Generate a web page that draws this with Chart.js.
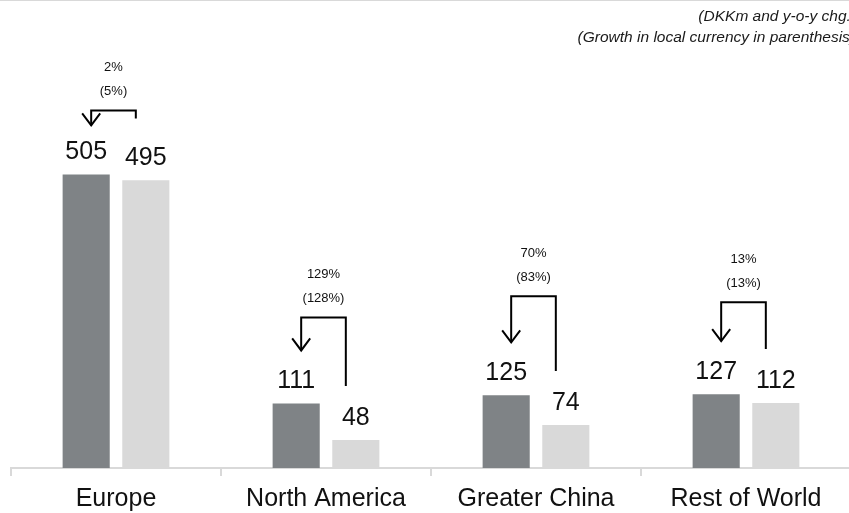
<!DOCTYPE html>
<html>
<head>
<meta charset="utf-8">
<script src="https://cdn.jsdelivr.net/npm/chart.js@4.4.1/dist/chart.umd.min.js"></script>
<style>
  html, body { margin: 0; padding: 0; background: #fff; overflow: hidden; }
</style>
</head>
<body>
<canvas id="regionChart" width="851" height="513"></canvas>
<script>
// Revenue by region (DKKm), current year vs prior year
const categories = ["Europe", "North America", "Greater China", "Rest of World"];
const currentValues = [505, 111, 125, 127];
const priorValues = [495, 48, 74, 112];
const growthLabels = ["2%", "129%", "70%", "13%"];
const localGrowthLabels = ["(5%)", "(128%)", "(83%)", "(13%)"];

const FONT = '"Liberation Sans", Arial, sans-serif';
const DARK = "#7f8386";
const LIGHT = "#d9d9d9";

// how far (px) each bracket sits above the taller bar of its pair
const bracketRise = [64, 86, 99, 92];

const growthArrows = {
  id: "growthArrows",
  beforeDraw(chart) {
    const ctx = chart.ctx;
    ctx.save();
    ctx.fillStyle = LIGHT;
    ctx.fillRect(0, 0, 849, 1);
    ctx.fillStyle = "#1a1a1a";
    ctx.textAlign = "right";
    ctx.textBaseline = "middle";
    ctx.font = "italic 15.5px " + FONT;
    ctx.fillText("(DKKm and y-o-y chg.)", 856, 17);
    ctx.fillText("(Growth in local currency in parenthesis)", 855, 38);
    ctx.restore();
  },
  afterDatasetsDraw(chart) {
    const ctx = chart.ctx;
    const cur = chart.getDatasetMeta(0).data;
    const prev = chart.getDatasetMeta(1).data;
    ctx.save();
    ctx.fillStyle = "#111";
    ctx.textAlign = "center";
    ctx.textBaseline = "middle";

    // value labels
    ctx.font = "25px " + FONT;
    cur.forEach((bar, i) => {
      ctx.fillText(String(currentValues[i]), bar.x, bar.y - 22);
      ctx.fillText(String(priorValues[i]), prev[i].x, prev[i].y - 22);
    });

    // elbow arrows from prior bar to current bar
    ctx.strokeStyle = "#000";
    ctx.lineWidth = 2;
    ctx.lineJoin = "miter";
    ctx.font = "13px " + FONT;
    cur.forEach((bar, i) => {
      const p = prev[i];
      const top = Math.min(bar.y, p.y) - bracketRise[i];
      const xl = bar.x + 5;
      const xr = p.x - 10;
      const tip = Math.max(top + 15, bar.y - 53);
      let rb = p.y - 54;
      if (rb < top + 20) rb = top + 8;

      ctx.beginPath();
      ctx.moveTo(xr, rb);
      ctx.lineTo(xr, top);
      ctx.lineTo(xl, top);
      ctx.lineTo(xl, tip);
      ctx.stroke();

      ctx.beginPath();
      ctx.moveTo(xl - 9, tip - 12);
      ctx.lineTo(xl, tip);
      ctx.lineTo(xl + 9, tip - 12);
      ctx.stroke();

      const mid = (xl + xr) / 2;
      ctx.fillText(growthLabels[i], mid, top - 43);
      ctx.fillText(localGrowthLabels[i], mid, top - 19);
    });
    ctx.restore();
  },
};

const ctx = document.getElementById("regionChart").getContext("2d");

const regionChart = new Chart(ctx, {
  type: "bar",
  data: {
    labels: categories,
    datasets: [
      {
        label: "Current year",
        data: currentValues,
        backgroundColor: DARK,
        borderWidth: 0,
        categoryPercentage: 0.568,
        barPercentage: 0.79,
      },
      {
        label: "Prior year",
        data: priorValues,
        backgroundColor: LIGHT,
        borderWidth: 0,
        categoryPercentage: 0.568,
        barPercentage: 0.79,
      },
    ],
  },
  options: {
    responsive: false,
    animation: false,
    devicePixelRatio: 1,
    layout: { padding: { top: 61, left: 11, right: 0, bottom: 0 } },
    plugins: {
      legend: { display: false },
      tooltip: { enabled: false },
    },
    scales: {
      x: {
        grid: {
          offset: true,
          drawOnChartArea: false,
          drawTicks: true,
          tickLength: 8,
          color: LIGHT,
          lineWidth: 2,
        },
        border: { display: true, color: LIGHT, width: 2 },
        ticks: {
          color: "#111",
          padding: 8,
          font: { family: FONT, size: 25 },
          maxRotation: 0,
          autoSkip: false,
        },
        afterFit(scale) {
          scale.height = 45;
        },
      },
      y: {
        display: false,
        min: 0,
        max: 700,
      },
    },
  },
  plugins: [growthArrows],
});
</script>
</body>
</html>
